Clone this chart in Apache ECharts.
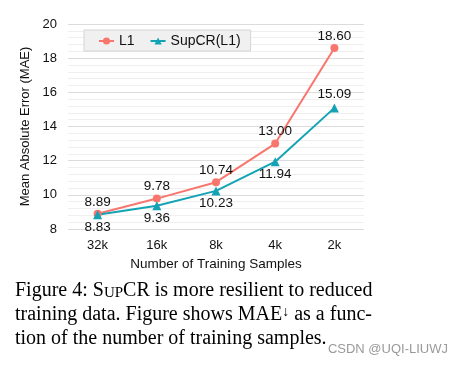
<!DOCTYPE html>
<html><head><meta charset="utf-8">
<script src="https://cdn.jsdelivr.net/npm/echarts@6/dist/echarts.min.js"></script>
<style>html,body{margin:0;padding:0;background:#fff}#c{width:464px;height:368px}</style>
</head><body><div id="c"></div>
<script>
const categories = ['32k', '16k', '8k', '4k', '2k'];
const l1Values = [8.89, 9.78, 10.74, 13.00, 18.60];
const supcrValues = [8.83, 9.36, 10.23, 11.94, 15.09];
const seriesNames = ['L1', 'SupCR(L1)'];
const yTicks = [8, 10, 12, 14, 16, 18, 20];

const RED = '#F8766D', TEAL = '#13A3B4';
const sans = 'Liberation Sans, Arial, sans-serif';
const serif = 'Liberation Serif, Times New Roman, serif';

const chart = echarts.init(document.getElementById('c'), null, {renderer: 'canvas'});
chart.setOption({
  animation: false,
  backgroundColor: '#fff',
  grid: {left: 68, right: 100, top: 24, bottom: 139},
  legend: {
    left: 84, top: 30, itemGap: 15, itemWidth: 15, itemHeight: 9,
    backgroundColor: '#f0f0f0', borderColor: '#d4d4d4', borderWidth: 1,
    padding: [4, 10, 3, 14],
    textStyle: {fontFamily: sans, fontSize: 14, color: '#111'},
    data: seriesNames
  },
  xAxis: {
    type: 'category', data: categories, boundaryGap: true,
    name: 'Number of Training Samples', nameLocation: 'middle', nameGap: 23,
    nameTextStyle: {fontFamily: sans, fontSize: 13.5, color: '#111'},
    axisLine: {show: false}, axisTick: {show: false},
    axisLabel: {fontFamily: sans, fontSize: 13, color: '#111', margin: 10}
  },
  yAxis: {
    type: 'value', min: yTicks[0], max: yTicks[yTicks.length - 1], interval: 2,
    name: 'Mean Absolute Error (MAE)', nameLocation: 'middle', nameGap: 31,
    nameTextStyle: {fontFamily: sans, fontSize: 13, color: '#111'},
    axisLine: {show: false}, axisTick: {show: false},
    axisLabel: {fontFamily: sans, fontSize: 13, color: '#111', margin: 11},
    splitLine: {show: true, lineStyle: {color: '#dcdcdc', width: 1.2}},
    minorTick: {show: false, splitNumber: 5},
    minorSplitLine: {show: true, lineStyle: {color: '#efefef', width: 1}}
  },
  series: [
    {
      name: seriesNames[0], type: 'line', data: l1Values,
      symbol: 'circle', symbolSize: 8, lineStyle: {color: RED, width: 2},
      itemStyle: {color: RED},
      label: {show: true, position: 'top', distance: 1, formatter: p => p.value.toFixed(2),
        fontFamily: sans, fontSize: 13.5, color: '#111'}
    },
    {
      name: seriesNames[1], type: 'line', data: supcrValues,
      symbol: 'triangle', symbolSize: 9, lineStyle: {color: TEAL, width: 2},
      itemStyle: {color: TEAL},
      label: {show: true, position: 'bottom', distance: 1, formatter: p => p.value.toFixed(2),
        fontFamily: sans, fontSize: 13.5, color: '#111'},
      labelLayout: function (params) {
        if (params.dataIndex === supcrValues.length - 1) {
          return {dy: -26};
        }
      }
    }
  ],
  graphic: [
    {type: 'text', left: 15, top: 281, style: {
      text: 'Figure 4: S{sc|UP}CR is more resilient to reduced',
      font: '20px ' + serif, fill: '#000',
      rich: {sc: {fontSize: 15, fontFamily: serif, fill: '#000', verticalAlign: 'bottom'}}
    }},
    {type: 'text', left: 15, top: 305, style: {
      text: 'training data. Figure shows MAE{sup|↓} as a func-',
      font: '20px ' + serif, fill: '#000',
      rich: {sup: {fontSize: 14, fontFamily: serif, fill: '#000', verticalAlign: 'top'}}
    }},
    {type: 'text', left: 15, top: 329, style: {
      text: 'tion of the number of training samples.',
      font: '20px ' + serif, fill: '#000'
    }},
    {type: 'text', right: 16, top: 343, style: {
      text: 'CSDN @UQI-LIUWJ', font: '13px ' + sans, fill: '#9a9a9a'
    }}
  ]
});
</script></body></html>
